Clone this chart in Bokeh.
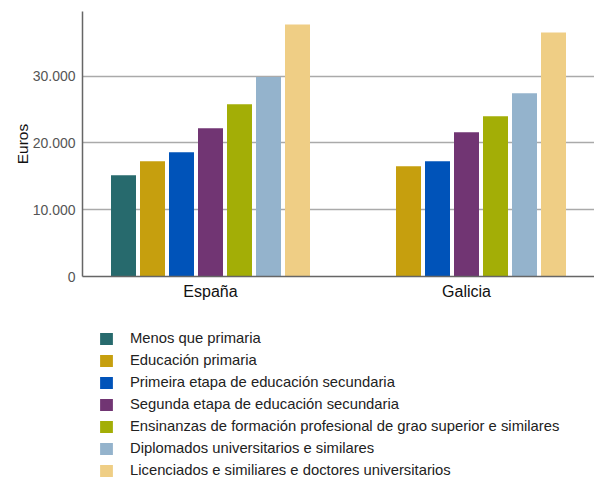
from bokeh.plotting import figure
from bokeh.layouts import column
from bokeh.models import ColumnDataSource, Legend, LegendItem, FactorRange, Range1d, CustomJSTickFormatter, FixedTicker
from bokeh.transform import dodge
from bokeh.embed import file_html
from bokeh.resources import INLINE

regions = ["España", "Galicia"]
series = [
    "Menos que primaria",
    "Educación primaria",
    "Primeira etapa de educación secundaria",
    "Segunda etapa de educación secundaria",
    "Ensinanzas de formación profesional de grao superior e similares",
    "Diplomados universitarios e similares",
    "Licenciados e similiares e doctores universitarios",
]
colors = ["#276a6d", "#c69f0e", "#0053b9", "#713573", "#a3ae06", "#94b3cc", "#efce85"]
values = [
    [15160, float("nan")],
    [17260, 16510],
    [18600, 17260],
    [22200, 21600],
    [25800, 24000],
    [29880, 27440],
    [37770, 36570],
]
y_ticks = [0, 10000, 20000, 30000]

p = figure(x_range=FactorRange(*regions), y_range=Range1d(0, 39700),
           width=594, height=310, output_backend="svg", toolbar_location=None,
           min_border_left=82, min_border_right=0, min_border_top=11, min_border_bottom=34)
p.x_range.range_padding = 0

src = ColumnDataSource({"region": regions, **{f"s{i}": values[i] for i in range(7)}})
step = 29 / 256
for i in range(7):
    p.vbar(x=dodge("region", (i - 3) * step, range=p.x_range), top=f"s{i}", width=25 / 256,
           source=src, color=colors[i], line_color=None)

p.yaxis.ticker = FixedTicker(ticks=y_ticks)
p.yaxis.formatter = CustomJSTickFormatter(code="return tick.toLocaleString('de-DE');")
p.yaxis.axis_label = "Euros"
p.yaxis.axis_label_text_font = "Liberation Sans"
p.yaxis.axis_label_text_font_style = "normal"
p.yaxis.axis_label_text_font_size = "15.5px"
p.yaxis.axis_label_text_color = "#111111"
p.yaxis.axis_label_standoff = -1
p.yaxis.major_label_text_font = "Liberation Sans"
p.yaxis.major_label_text_font_size = "14px"
p.yaxis.major_label_text_color = "#555555"
p.yaxis.major_label_standoff = 1
p.xaxis.major_label_text_font = "Liberation Sans"
p.xaxis.major_label_text_font_size = "16px"
p.xaxis.major_label_text_color = "#111111"
p.xaxis.major_label_standoff = 0
for ax in (p.xaxis, p.yaxis):
    ax.axis_line_color = "#666666"
    ax.axis_line_width = 1.5
    ax.major_tick_line_color = None
    ax.minor_tick_line_color = None
p.xgrid.grid_line_color = None
p.ygrid.grid_line_color = "#aaaaaa"
p.ygrid.grid_line_width = 1.5
p.outline_line_color = None

# legend figure
lg = figure(x_range=Range1d(0, 1), y_range=Range1d(0, 1), width=594, height=168,
            output_backend="svg", toolbar_location=None,
            min_border_left=82, min_border_right=0, min_border_top=0, min_border_bottom=0)
lg.axis.visible = False
lg.grid.visible = False
lg.outline_line_color = None
items = []
for i in range(7):
    r = lg.vbar(x=[float("nan")], top=[float("nan")], width=0.1, color=colors[i], line_color=None)
    items.append(LegendItem(label=series[i], renderers=[r]))
legend = Legend(items=items, location=(16, 0), orientation="vertical",
                label_text_font="Liberation Sans", label_text_font_size="14.8px", label_text_color="#222222",
                glyph_width=16, glyph_height=15, spacing=6, label_standoff=16,
                padding=0, margin=0, border_line_color=None, background_fill_alpha=0,
                label_height=15)
lg.add_layout(legend, "center")

open("out.html", "w").write(file_html(column(p, lg, spacing=0), INLINE))
